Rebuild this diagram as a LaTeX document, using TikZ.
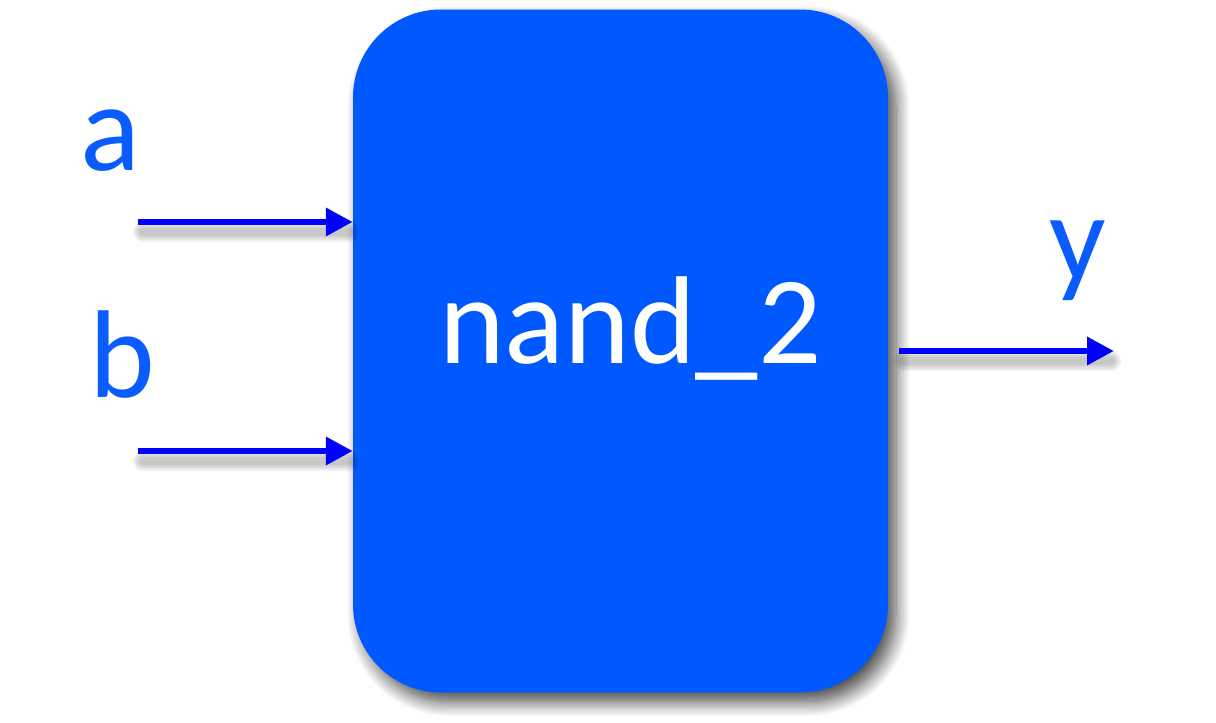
\documentclass[tikz,border=0pt]{standalone}
\usepackage{fontspec}
\setmainfont{Carlito}
\usetikzlibrary{shadows.blur,arrows.meta}
\definecolor{boxblue}{HTML}{0059FF}
\definecolor{lblblue}{HTML}{0A5CFF}
\definecolor{wireblue}{HTML}{0000FF}
\tikzset{
  gatebox/.style={draw=none, fill=boxblue, rounded corners=88pt, minimum width=535pt, minimum height=683pt, inner sep=0pt,
    blur shadow={shadow xshift=8pt, shadow yshift=-10pt, shadow blur radius=14pt, shadow blur steps=12, shadow opacity=70}},
  biglabel/.style={inner sep=0pt, anchor=base west, font=\fontsize{125}{150}\selectfont},
  wire/.style={draw=wireblue, line width=6.5pt, -{Triangle[length=27pt,width=27pt]}},
  wireshadow/.style={draw=black, line width=#1, opacity=0.06, line cap=round, shorten >=8pt},
}
\begin{document}
\begin{tikzpicture}[x=1pt,y=-1pt]
\useasboundingbox (0,0) rectangle (1216,723);
\node[gatebox] (gate) at (620.5,351) {};
\node[biglabel, text=white] (name) at (439,363) {nand\_2};
\node[biglabel, text=lblblue] (la) at (80,170) {a};
\node[biglabel, text=lblblue] (lb) at (89,397) {b};
\node[biglabel, text=lblblue] (ly) at (1049,280) {y};
\coordinate (ain) at (138,222);
\coordinate (bin) at (138,451);
\coordinate (yout) at (1114,351);
\coordinate (ystart) at (899,351);
% shadows of wires
\foreach \w in {8pt,12pt,16pt,20pt}{
  \draw[wireshadow=\w] ([shift={(5,10)}]ain) -- ([shift={(5,10)}]ain -| gate.west);
  \draw[wireshadow=\w] ([shift={(5,10)}]bin) -- ([shift={(5,10)}]bin -| gate.west);
  \draw[wireshadow=\w] ([shift={(5,10)}]ystart) -- ([shift={(5,10)}]yout);
}
\draw[wire] (ain) -- (ain -| gate.west);
\draw[wire] (bin) -- (bin -| gate.west);
\draw[wire] (ystart) -- (yout);
\end{tikzpicture}
\end{document}
